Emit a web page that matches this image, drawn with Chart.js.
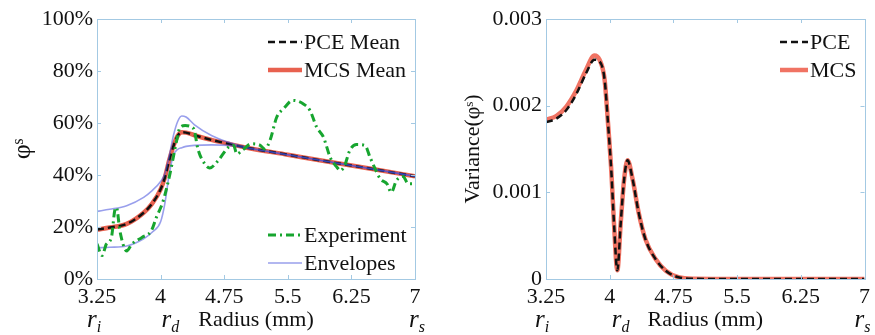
<!DOCTYPE html>
<html><head><meta charset="utf-8">
<script src="https://cdn.jsdelivr.net/npm/chart.js@4"></script>
<style>
html,body{margin:0;padding:0;background:#fff;}
#w{position:relative;width:875px;height:335px;overflow:hidden;background:#fff;}
#c1{position:absolute;left:0;top:0;width:440px;height:335px;}
#c2{position:absolute;left:440px;top:0;width:435px;height:335px;}
</style></head><body>
<div id="w"><canvas id="c1" width="440" height="335"></canvas><canvas id="c2" width="435" height="335"></canvas></div>
<script>
// ---- tick labels ----
const xTicks = [3.25, 4, 4.75, 5.5, 6.25, 7];
const yTicksMean = [0, 20, 40, 60, 80, 100];
const yTicksVar = [0, 0.001, 0.002, 0.003];
const yTickVarLabels = ['0', '0.001', '0.002', '0.003'];

// ---- left chart: mean of phi^s (%) ----
const radius   = [3.25, 3.4, 3.6, 3.8, 3.9, 4.0, 4.05, 4.1, 4.15, 4.2, 4.25, 4.3, 4.4, 4.6, 4.8, 5.0, 5.5, 6.0, 6.5, 7.0];
const pceMean  = [19, 19.8, 21.2, 25.5, 29, 34.5, 39, 45.5, 51, 55, 56.4, 56.3, 55.3, 53.5, 52, 50.6, 47.8, 45, 42.3, 39.5];
const mcsMean  = [19, 19.8, 21.2, 25.5, 29, 34.5, 39, 45.5, 51, 55, 56.4, 56.3, 55.3, 53.5, 52, 50.6, 47.8, 45, 42.3, 39.5];
const upperEnv = [26, 26.8, 28.2, 31.4, 34, 37.5, 40.5, 47, 55, 60.5, 62.7, 62.3, 59.3, 55.2, 52.6, 50.8, 47.8, 45, 42.3, 39.5];
const lowerEnv = [12, 12.2, 12.7, 15.5, 18, 22, 29, 40, 47.5, 49.8, 50.5, 51, 51.4, 51.6, 51.4, 50.4, 47.8, 45, 42.3, 39.5];

const expRadius = [3.25, 3.31, 3.36, 3.42, 3.46, 3.48, 3.52, 3.6, 3.66, 3.78, 3.89, 3.95, 4.03, 4.11, 4.19, 4.23, 4.29, 4.39, 4.44, 4.52, 4.58, 4.68, 4.8, 4.86, 4.9, 4.97, 5.07, 5.17, 5.23, 5.29, 5.37, 5.45, 5.56, 5.68, 5.76, 5.84, 5.92, 6.0, 6.08, 6.12, 6.17, 6.23, 6.31, 6.41, 6.47, 6.53, 6.59, 6.67, 6.72, 6.78, 6.86, 6.92, 7.0];
const expPhi    = [13.5, 9, 13.4, 16, 26.5, 27.5, 18.5, 10.8, 13.4, 16, 18.5, 23.7, 30, 40.4, 53.3, 58.4, 59, 57.8, 50, 44.3, 42.7, 45.6, 50.7, 51.4, 48.1, 49.7, 52, 51.5, 50, 53.3, 62.3, 65.5, 68.7, 67.4, 64.9, 58.4, 54.6, 46.8, 43, 41.7, 43.6, 49.4, 51.7, 51.4, 46.8, 42.4, 38.5, 36.6, 33.3, 37.8, 39.4, 36.6, 36.6];

// ---- right chart: variance of phi^s ----
const varRadius = [3.25, 3.37, 3.49, 3.61, 3.72, 3.82, 3.88, 3.94, 3.98, 4.02, 4.05, 4.09, 4.13, 4.17, 4.21, 4.27, 4.34, 4.42, 4.54, 4.66, 4.81, 5.0, 5.5, 6.0, 6.5, 7.0];
const mcsVar = [0.00184, 0.00188, 0.00199, 0.00218, 0.00241, 0.00258, 0.00253, 0.0023, 0.0018, 0.00123, 0.00065, 0.0001, 0.00065, 0.00115, 0.00137, 0.00115, 0.00077, 0.00046, 0.00023, 0.000095, 0.00002, 0.000003, 0, 0, 0, 0];
const pceVar = [0.00181, 0.00185, 0.00195, 0.00214, 0.00237, 0.00253, 0.00251, 0.0023, 0.0018, 0.00123, 0.00065, 0.0001, 0.00065, 0.00115, 0.00137, 0.00115, 0.00077, 0.00046, 0.00023, 0.000095, 0.00002, 0.000003, 0, 0, 0, 0];

const FONT = 'Liberation Serif';
const TXT = '#111111';
const BOX = '#a3c9e3';
const RED1 = '#e8614f', RED2 = '#f07363', GREEN = '#17a52f', BLUE = 'rgba(70,80,220,0.55)', BLACK = '#111111';

function pts(xs, ys) { return xs.map((x, i) => ({x: x, y: ys[i]})); }

function line(label, xs, ys, color, width, dash, order) {
  return {label, data: pts(xs, ys), borderColor: color, borderWidth: width, order: order,
    borderDash: dash || [], pointRadius: 0, fill: false,
    cubicInterpolationMode: 'monotone', borderCapStyle: 'butt', borderJoinStyle: 'round'};
}

function framePlugin(cfg) {
  return {
    id: 'frame',
    afterDatasetsDraw(chart) {
      const ctx = chart.ctx, a = chart.chartArea;
      const xs = chart.scales.x, ys = chart.scales.y;
      ctx.save();
      ctx.strokeStyle = BOX; ctx.lineWidth = 1;
      ctx.strokeRect(Math.round(a.left) + 0.5, Math.round(a.top) + 0.5, Math.round(a.right - a.left), Math.round(a.bottom - a.top));
      ctx.beginPath();
      xTicks.forEach(v => {
        const px = Math.round(xs.getPixelForValue(v)) + 0.5;
        ctx.moveTo(px, a.bottom); ctx.lineTo(px, a.bottom - 4);
        ctx.moveTo(px, a.top); ctx.lineTo(px, a.top + 4);
      });
      cfg.yTicks.forEach(v => {
        const py = Math.round(ys.getPixelForValue(v)) + 0.5;
        ctx.moveTo(a.left, py); ctx.lineTo(a.left + 4, py);
        ctx.moveTo(a.right, py); ctx.lineTo(a.right - 4, py);
      });
      ctx.stroke();
      // legend entries
      ctx.font = '22px ' + FONT;
      ctx.textBaseline = 'middle';
      ctx.textAlign = 'left';
      cfg.legend.forEach(it => {
        ctx.save();
        ctx.strokeStyle = it.color; ctx.lineWidth = it.width;
        ctx.setLineDash(it.dash || []);
        ctx.beginPath(); ctx.moveTo(it.x0, it.y); ctx.lineTo(it.x1, it.y); ctx.stroke();
        ctx.restore();
        ctx.fillStyle = TXT;
        ctx.fillText(it.text, it.x1 + 2, it.y + 1);
      });
      // r_i, r_d, r_s labels
      ctx.textBaseline = 'alphabetic';
      cfg.rLabels.forEach(r => {
        const px = xs.getPixelForValue(r.v) + r.dx;
        ctx.fillStyle = TXT;
        ctx.font = 'italic 25px ' + FONT;
        ctx.fillText('r', px, 327);
        const w = ctx.measureText('r').width;
        ctx.font = 'italic 16px ' + FONT;
        ctx.fillText(r.sub, px + w, 332);
      });
      ctx.restore();
    }
  };
}

function options(yMin, yMax, yTicks, yFmt, yTitle, yTitleSize, yTitlePad, yWidth, padRight) {
  return {
    responsive: false, animation: false, devicePixelRatio: 1,
    layout: {padding: {left: 0, right: padRight, top: 19, bottom: 0}},
    plugins: {legend: {display: false}, tooltip: {enabled: false}},
    scales: {
      x: {type: 'linear', min: 3.25, max: 7,
        afterBuildTicks: s => { s.ticks = xTicks.map(v => ({value: v})); },
        afterFit: s => { s.height = 56; },
        grid: {display: false, drawTicks: false}, border: {display: false},
        ticks: {autoSkip: false, maxRotation: 0, padding: 5, color: TXT,
          font: {family: FONT, size: 22, lineHeight: 1.2},
          callback: v => String(+(+v).toFixed(2))},
        title: {display: true, text: 'Radius (mm)', color: TXT,
          font: {family: FONT, size: 22, lineHeight: 1.2}, padding: {top: 0, bottom: 2}}
      },
      y: {type: 'linear', min: yMin, max: yMax,
        afterBuildTicks: s => { s.ticks = yTicks.map(v => ({value: v})); },
        afterFit: s => { s.width = yWidth; },
        grid: {display: false, drawTicks: false}, border: {display: false},
        ticks: {padding: 4, color: TXT, font: {family: FONT, size: 22, lineHeight: 1.2}, callback: yFmt},
        title: {display: true, text: yTitle, color: TXT,
          font: {family: FONT, size: yTitleSize, lineHeight: 1.2}, padding: {top: yTitlePad, bottom: 0}}
      }
    }
  };
}

function draw() {
  Chart.defaults.font.family = FONT;
  new Chart(document.getElementById('c1'), {
    type: 'line',
    data: {datasets: [
      line('MCS Mean', radius, mcsMean, RED1, 4.5, null, 5),
      line('PCE Mean', radius, pceMean, BLACK, 2.5, [7, 4], 4),
      line('Envelopes', radius, upperEnv, BLUE, 1.6, null, 3),
      line('Envelopes', radius, lowerEnv, BLUE, 1.6, null, 2),
      line('Experiment', expRadius, expPhi, GREEN, 3, [8, 4, 2, 4], 1)
    ]},
    options: options(0, 100, yTicksMean, v => v + '%', 'φˢ', 26, 8, 97, 25),
    plugins: [framePlugin({
      yTicks: yTicksMean,
      legend: [
        {text: 'PCE Mean', color: BLACK, width: 2.5, dash: [7, 4], x0: 268, x1: 302, y: 42},
        {text: 'MCS Mean', color: RED1, width: 4.5, x0: 268, x1: 302, y: 70},
        {text: 'Experiment', color: GREEN, width: 3, dash: [8, 4, 2, 4], x0: 268, x1: 302, y: 235},
        {text: 'Envelopes', color: BLUE, width: 1.6, x0: 268, x1: 302, y: 263}
      ],
      rLabels: [{v: 3.25, dx: -10, sub: 'i'}, {v: 4, dx: 1, sub: 'd'}, {v: 7, dx: -6, sub: 's'}]
    })]
  });

  new Chart(document.getElementById('c2'), {
    type: 'line',
    data: {datasets: [
      line('MCS', varRadius, mcsVar, RED2, 4.5, null, 2),
      line('PCE', varRadius, pceVar, BLACK, 2.5, [7, 4], 1)
    ]},
    options: options(0, 0.003, yTicksVar, (v) => yTickVarLabels[yTicksVar.findIndex(t => Math.abs(t - v) < 1e-9)], 'Variance(φˢ)', 22, 20, 106, 7),
    plugins: [framePlugin({
      yTicks: yTicksVar,
      legend: [
        {text: 'PCE', color: BLACK, width: 2.5, dash: [7, 4], x0: 340, x1: 368, y: 42},
        {text: 'MCS', color: RED2, width: 4.5, x0: 340, x1: 368, y: 70}
      ],
      rLabels: [{v: 3.25, dx: -11, sub: 'i'}, {v: 4, dx: 2, sub: 'd'}, {v: 7, dx: -10, sub: 's'}]
    })]
  });
}

draw();
</script>
</body></html>
